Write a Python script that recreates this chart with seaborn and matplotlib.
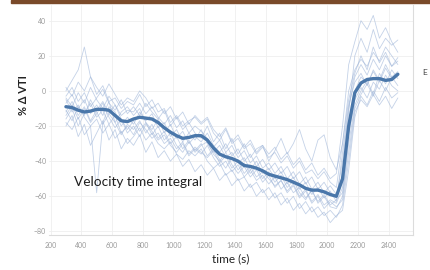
import pandas as pd
import matplotlib.pyplot as plt
import seaborn as sns
from matplotlib.patches import Rectangle

# time grid (s)
time_s = [300, 340, 380, 420, 460, 500, 540, 580, 620, 660, 700,
          740, 780, 820, 860, 900, 940, 980, 1020, 1060, 1100, 1140,
          1180, 1220, 1260, 1300, 1340, 1380, 1420, 1460, 1500, 1540, 1580,
          1620, 1660, 1700, 1740, 1780, 1820, 1860, 1900, 1940, 1980, 2020,
          2060, 2100, 2140, 2180, 2220, 2260, 2300, 2340, 2380, 2420, 2460]

# group mean % change in VTI
mean_vti = [-9, -9.5, -11, -12, -11.5, -10.5, -10.5, -11, -14, -17, -17.5,
            -16, -15, -15.5, -16, -18, -21, -23.5, -25.5, -27, -26.5, -25.5,
            -25.5, -28, -32.5, -36, -37.5, -38.5, -40, -42.5, -43, -44, -45.5,
            -47.5, -48.5, -49.5, -50.5, -52, -53.5, -55.5, -56.5, -56.5, -57.5, -59,
            -60, -50, -20, -1, 4.5, 6.5, 7, 7, 6, 6.5, 9.5]

# individual subjects
subj_a = [2, -3, 5, 0, 8, -2, 3, -6, -4, -10, -6,
          -8, -2, -9, -5, -12, -10, -18, -14, -20, -17, -15,
          -19, -16, -24, -28, -22, -30, -27, -33, -30, -36, -32,
          -38, -35, -41, -37, -44, -40, -47, -45, -50, -46, -52,
          -55, -30, 0, 12, 18, 14, 22, 17, 25, 20, 15]
subj_b = [-18, -22, -15, -25, -20, -16, -24, -19, -27, -23, -30,
          -26, -21, -28, -24, -30, -33, -29, -36, -39, -34, -37,
          -33, -40, -44, -41, -48, -45, -51, -49, -55, -52, -58,
          -55, -61, -58, -64, -60, -67, -63, -69, -66, -71, -68,
          -72, -65, -40, -12, -5, -9, -2, -8, -3, -10, -4]
subj_c = [-5, -12, -8, -15, -20, -58, -18, -9, -12, -20, -15,
          -19, -12, -17, -13, -21, -18, -26, -22, -29, -24, -28,
          -22, -30, -35, -31, -38, -35, -41, -38, -45, -40, -47,
          -44, -50, -46, -53, -49, -56, -52, -59, -55, -61, -57,
          -63, -35, -8, 5, 10, 3, 12, 6, 15, 8, 11]
subj_d = [0, 6, 12, 25, 8, 2, -3, 4, -2, -8, -4,
          -6, 0, -4, -10, -7, -13, -9, -16, -12, -19, -14,
          -18, -15, -22, -26, -21, -29, -25, -32, -28, -35, -31,
          -36, -32, -39, -35, -42, -38, -45, -41, -48, -44, -50,
          -47, -20, 15, 28, 40, 35, 43, 30, 36, 28, 22]
subj_e = [-14, -8, -16, -10, -18, -13, -7, -15, -21, -16, -24,
          -20, -26, -19, -23, -28, -25, -31, -35, -30, -37, -33,
          -36, -31, -38, -43, -40, -46, -42, -49, -45, -51, -48,
          -53, -49, -56, -52, -58, -55, -61, -57, -63, -59, -65,
          -62, -58, -25, -5, 2, -4, 5, 1, 9, 3, 0]
subj_f = [-3, 2, -6, -1, -9, -4, 1, -7, -11, -5, -13,
          -9, -14, -7, -12, -16, -11, -20, -15, -22, -18, -24,
          -27, -20, -29, -24, -33, -27, -36, -30, -38, -33, -31,
          -40, -34, -27, -36, -30, -22, -33, -40, -28, -25, -38,
          -45, -30, -5, 10, 20, 12, 25, 16, 22, 14, 19]
subj_g = [-11, -17, -9, -14, -5, -12, -19, -13, -8, -16, -22,
          -17, -23, -18, -25, -20, -28, -24, -31, -35, -29, -34,
          -30, -37, -33, -39, -44, -38, -45, -41, -47, -43, -50,
          -46, -52, -48, -55, -51, -58, -62, -56, -64, -60, -66,
          -67, -60, -30, -8, 0, 6, -2, 10, 4, 12, 7]
subj_h = [-20, -14, -26, -19, -31, -24, -17, -28, -22, -33, -27,
          -31, -25, -35, -29, -38, -34, -40, -36, -43, -39, -46,
          -42, -48, -44, -51, -47, -54, -50, -57, -53, -60, -56,
          -62, -58, -65, -61, -68, -64, -70, -66, -72, -69, -75,
          -71, -68, -45, -15, -3, -8, 0, -6, 2, -4, -1]
subj_i = [-7, -2, -10, -5, -13, -8, -14, -6, -18, -12, -9,
          -14, -10, -18, -22, -16, -24, -19, -27, -23, -30, -26,
          -29, -24, -31, -35, -30, -37, -33, -40, -36, -43, -39,
          -45, -41, -47, -43, -50, -46, -53, -49, -56, -52, -58,
          -61, -40, -10, 8, 15, 9, 18, 12, 20, 14, 17]
subj_j = [-16, -10, -20, -13, -7, -15, -11, -19, -14, -24, -20,
          -25, -18, -22, -27, -24, -30, -27, -33, -29, -36, -32,
          -35, -38, -34, -41, -37, -44, -40, -47, -43, -49, -46,
          -50, -54, -51, -57, -53, -60, -56, -63, -59, -65, -62,
          -64, -55, -20, 0, 8, 4, 11, 5, 13, 7, 10]
subj_k = [-4, -9, -1, -7, 2, -5, -10, -3, -8, -14, -11,
          -12, -7, -13, -9, -15, -19, -14, -21, -17, -24, -20,
          -23, -27, -32, -28, -35, -31, -38, -34, -41, -37, -44,
          -41, -47, -43, -50, -46, -53, -49, -56, -52, -58, -54,
          -59, -48, -12, 20, 30, 22, 35, 24, 30, 26, 29]
subj_l = [-12, -6, -14, -9, -17, -11, -6, -13, -18, -25, -19,
          -22, -17, -24, -19, -27, -23, -30, -26, -33, -28, -35,
          -31, -29, -36, -40, -35, -42, -47, -43, -49, -45, -52,
          -48, -55, -51, -58, -54, -61, -57, -64, -60, -67, -63,
          -66, -62, -35, -10, -2, 4, -3, 6, 0, 8, 3]

subjects = {"a": subj_a, "b": subj_b, "c": subj_c, "d": subj_d,
            "e": subj_e, "f": subj_f, "g": subj_g, "h": subj_h,
            "i": subj_i, "j": subj_j, "k": subj_k, "l": subj_l}

x_ticks = [200, 400, 600, 800, 1000, 1200, 1400, 1600, 1800, 2000, 2200, 2400]
y_ticks = [-80, -60, -40, -20, 0, 20, 40]

# long format for seaborn
rows = []
for name, vals in subjects.items():
    for t, v in zip(time_s, vals):
        rows.append({"subject": name, "time": t, "vti": v})
df = pd.DataFrame(rows)
df_mean = pd.DataFrame({"time": time_s, "vti": mean_vti})

sns.set_theme(style="white")
plt.rcParams["font.family"] = ["Lato", "DejaVu Sans"]

fig = plt.figure(figsize=(4.3, 2.7), dpi=100)
ax = fig.add_axes([0.114, 0.13, 0.847, 0.852])

sns.lineplot(data=df, x="time", y="vti", units="subject", estimator=None,
             color="#9db4d8", alpha=0.6, lw=0.6, ax=ax)
sns.lineplot(data=df_mean, x="time", y="vti", color="#4a77aa", lw=2.4, ax=ax)

ax.set_xlim(190, 2560)
ax.set_ylim(-82, 49)
ax.set_xticks(x_ticks)
ax.set_yticks(y_ticks)
ax.grid(True, color="#efefef", lw=0.6)
ax.tick_params(axis="x", length=0, labelsize=5, labelcolor="#9a9a9a", pad=5)
ax.tick_params(axis="y", length=0, labelsize=5, labelcolor="#9a9a9a", pad=2)
for side in ["top", "left"]:
    ax.spines[side].set_visible(False)
ax.spines["bottom"].set_color("#dcdcdc")
ax.spines["right"].set_color("#dcdcdc")
ax.spines["bottom"].set_linewidth(0.8)
ax.spines["right"].set_linewidth(0.8)

ax.set_xlabel("time (s)", fontsize=8.5, color="#222222", labelpad=3)
ax.set_ylabel("% \u0394 VTI", fontsize=8, color="#222222", fontweight="bold")
ax.yaxis.set_label_coords(-0.055, 0.61)

ax.text(350, -52, "Velocity time integral", fontsize=9.8, color="#1e1e1e",
        ha="left", va="center")

# brownish strip at top edge of the photo and cut-off glyph at the right
fig.patches.append(Rectangle((0.025, 0.99), 0.975, 0.01, transform=fig.transFigure,
                             color="#7a4a2a", zorder=5))
fig.text(0.983, 0.73, "E", fontsize=6, color="#444444", ha="left", va="center")

fig.savefig("out.png", dpi=100)
